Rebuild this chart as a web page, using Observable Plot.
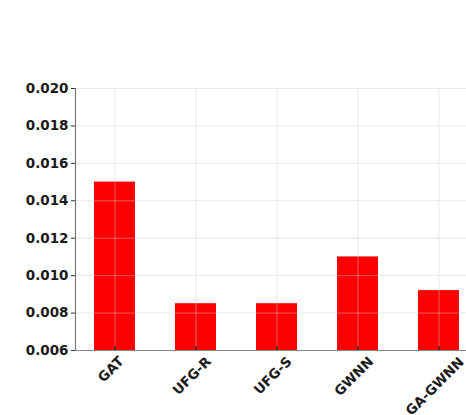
<!DOCTYPE html>
<html>
<head>
<meta charset="utf-8">
<script src="https://cdn.jsdelivr.net/npm/d3@7"></script>
<script src="https://cdn.jsdelivr.net/npm/@observablehq/plot@0.6"></script>
<style>
  html, body { margin: 0; padding: 0; background: #fff; overflow: hidden; width: 466px; height: 415px; }
  #chart { width: 466px; height: 415px; overflow: hidden; }
  #chart svg { max-width: none !important; width: 490px !important; height: 415px !important; }
</style>
</head>
<body>
<div id="chart"></div>
<script>
const categories = ["GAT", "UFG-R", "UFG-S", "GWNN", "GA-GWNN"];
const values = [0.0150, 0.0085, 0.0085, 0.0110, 0.0092];
const yTicks = [0.006, 0.008, 0.010, 0.012, 0.014, 0.016, 0.018, 0.020];
const yDomain = [0.006, 0.020];

const data = categories.map((c, i) => ({ name: c, value: values[i] }));

const FONT = "DejaVu Sans";
const FS = 13.5;
const ctx = document.createElement("canvas").getContext("2d");
ctx.font = `bold ${FS}px "${FONT}"`;

const labelMarks = categories.map(c => {
  const L = ctx.measureText(c).width;
  const off = 11 + 0.37 * L - 3;
  return Plot.text([c], {
    x: d => d, y: () => yDomain[0], text: d => d,
    rotate: -45, textAnchor: "middle", lineAnchor: "middle",
    dx: -4, dy: off, fontSize: FS, fontWeight: "bold", fill: "#1a1a1a"
  });
});

const chart = Plot.plot({
  width: 490,
  height: 415,
  marginTop: 88,
  marginBottom: 65,
  marginLeft: 75,
  marginRight: 13,
  style: { fontFamily: FONT, background: "#fff", overflow: "visible", maxWidth: "none" },
  x: { domain: categories, paddingInner: 0.5, paddingOuter: 0.23, axis: null },
  y: { domain: yDomain, axis: null, label: null },
  marks: [
    Plot.barY(data, { x: "name", y1: () => yDomain[0], y2: "value", fill: "#ff0000" }),
    Plot.gridX({ stroke: "#cfcfcf", strokeOpacity: 0.45, strokeWidth: 1 }),
    Plot.gridY(yTicks, { stroke: "#cfcfcf", strokeOpacity: 0.45, strokeWidth: 1 }),
    Plot.ruleX(categories, {
      x: d => d, y1: () => yDomain[0], y2: () => yDomain[0] + 0.0002, stroke: "#222", strokeWidth: 1.5
    }),
    Plot.axisY(yTicks, {
      label: null,
      tickFormat: d3.format(".3f"), tickSize: 4, tickPadding: 3,
      fontSize: FS, fontWeight: "bold", stroke: "#333", fill: "#1a1a1a"
    }),
    Plot.frame({ anchor: "left", stroke: "#777", strokeWidth: 1.2 }),
    Plot.frame({ anchor: "bottom", stroke: "#888", strokeWidth: 1.2 }),
    ...labelMarks
  ]
});
document.getElementById("chart").appendChild(chart);
</script>
</body>
</html>
